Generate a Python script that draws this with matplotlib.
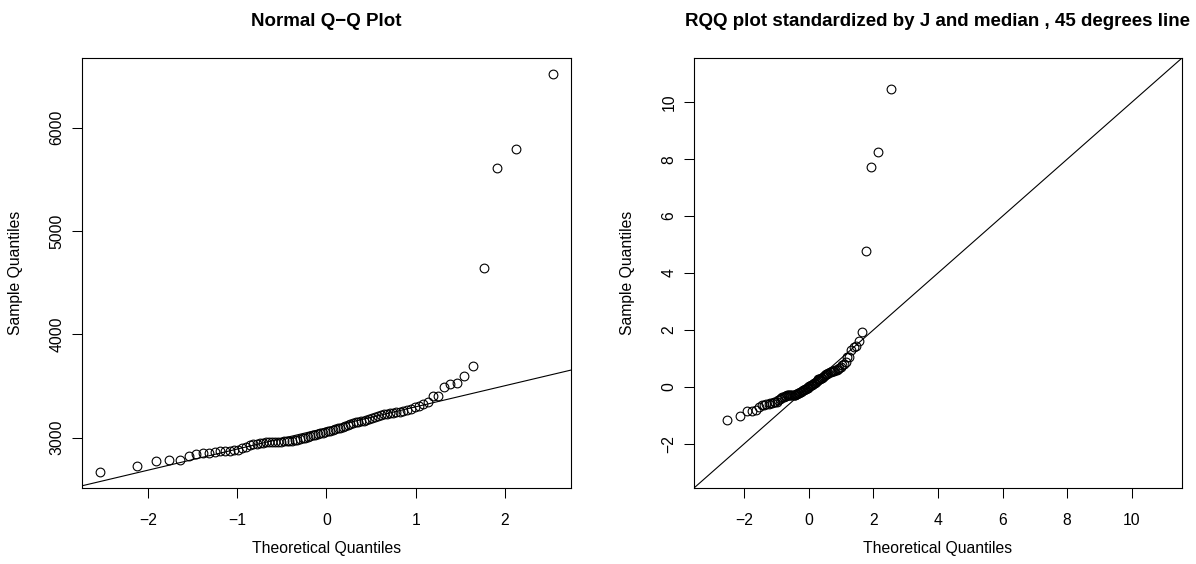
import numpy as np
import matplotlib
matplotlib.use("Agg")
import matplotlib.pyplot as plt
from statistics import NormalDist

plt.rcParams['font.family'] = ['Liberation Sans', 'DejaVu Sans']

# Sorted sample values (n = 90)
sample_values = [
    2666, 2722, 2773, 2780, 2783, 2825, 2845, 2848, 2852, 2858,
    2866, 2870, 2874, 2877, 2880, 2900, 2912, 2925, 2935, 2940,
    2945, 2948, 2955, 2957, 2958, 2959, 2960, 2961, 2962, 2964,
    2966, 2970, 2975, 2980, 2986, 2992, 3000, 3008, 3015, 3022,
    3028, 3034, 3040, 3047, 3053, 3060, 3066, 3072, 3080, 3088,
    3095, 3100, 3110, 3125, 3135, 3142, 3148, 3152, 3158, 3162,
    3168, 3180, 3192, 3200, 3208, 3216, 3228, 3232, 3236, 3240,
    3243, 3247, 3254, 3263, 3278, 3292, 3305, 3323, 3347, 3399,
    3405, 3486, 3517, 3528, 3592, 3690, 4640, 5610, 5790, 6520,
]
# Robust scale J used for standardisation
J_scale = 330.8

left_title = "Normal Q\u2212Q Plot"
right_title = "RQQ plot standardized by J and median , 45 degrees line"
x_label = "Theoretical Quantiles"
y_label = "Sample Quantiles"
left_xticks = [-2, -1, 0, 1, 2]
left_yticks = [3000, 4000, 5000, 6000]
right_ticks = [-2, 0, 2, 4, 6, 8, 10]
right_limits = [-3, 11]

v = np.array(sample_values, dtype=float)
n = len(v)
nd = NormalDist()
theo = np.array([nd.inv_cdf((i - 0.5) / n) for i in range(1, n + 1)])
med = np.median(v)
std_vals = (v - med) / J_scale

def ext(lo, hi):
    d = (hi - lo) * 0.04
    return lo - d, hi + d

W, H = 1196, 564
fig = plt.figure(figsize=(W / 100, H / 100), dpi=100)
fig.patch.set_facecolor('white')

axL = fig.add_axes([82 / W, (H - 488) / H, 489 / W, 430 / H])
axR = fig.add_axes([694 / W, (H - 488) / H, 488 / W, 430 / H])

fs = 11.3
for ax in (axL, axR):
    for sp in ax.spines.values():
        sp.set_linewidth(0.8)
        sp.set_color('black')
    ax.tick_params(direction='out', length=7.2, width=0.75, labelsize=fs,
                   colors='black')
    ax.tick_params(axis='x', pad=10.8)
    ax.tick_params(axis='y', pad=5.5, labelrotation=90)

mk = dict(marker='o', linestyle='none', markersize=6.3, markerfacecolor='none',
          markeredgecolor='black', markeredgewidth=0.8)

# Left: normal QQ plot
axL.plot(theo, v, **mk)
q1, q3 = np.quantile(v, [0.25, 0.75])
z1, z3 = nd.inv_cdf(0.25), nd.inv_cdf(0.75)
slope = (q3 - q1) / (z3 - z1)
inter = q1 - slope * z1
axL.axline((0, inter), slope=slope, color='black', linewidth=0.8)
axL.set_xlim(*ext(theo.min(), theo.max()))
axL.set_ylim(*ext(v.min(), v.max()))
axL.set_xticks(left_xticks)
axL.set_yticks(left_yticks)

# Right: standardized RQQ plot
axR.plot(theo, std_vals, **mk)
axR.axline((0, 0), slope=1, color='black', linewidth=0.8)
axR.set_xlim(*ext(*right_limits))
axR.set_ylim(*ext(*right_limits))
axR.set_xticks(right_ticks)
axR.set_yticks(right_ticks)

for ax, t in ((axL, left_title), (axR, right_title)):
    for lab in ax.get_yticklabels():
        lab.set_va('center')
    ax.set_title(t, fontsize=13.5, fontweight='bold', pad=23)
    ax.set_xlabel(x_label, fontsize=fs)
    ax.set_ylabel(y_label, fontsize=fs)
    ax.xaxis.set_label_coords(0.5, (488 - 549) / 430)
    ax.xaxis.label.set_va('center')
    ax.yaxis.set_label_coords(-66.5 / 489, 0.5)
    ax.yaxis.label.set_va('center')

fig.savefig("out.png", dpi=100, facecolor='white')
